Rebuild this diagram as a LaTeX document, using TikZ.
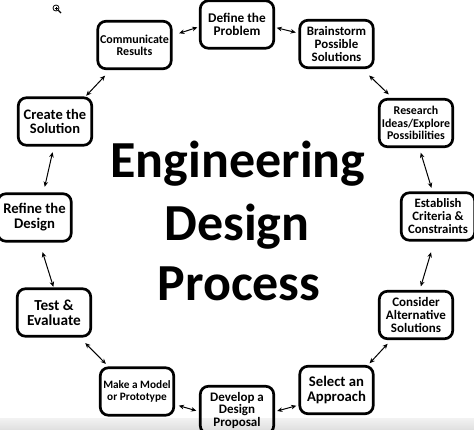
\documentclass[tikz,border=0pt]{standalone}
\usepackage{fontspec}
\setmainfont{Carlito}
\usetikzlibrary{arrows.meta}
\begin{document}
\begin{tikzpicture}[x=1pt,y=-1pt,
  box/.style={draw, line width=2.7pt, rounded corners=8pt, align=center,
    inner sep=0pt, outer sep=0pt, minimum width=73.4pt, minimum height=47.4pt},
  fs/.style 2 args={font=\bfseries\fontsize{#1}{#2}\selectfont},
  arr/.style={{Stealth[length=5.2pt,width=4.6pt]}-{Stealth[length=5.2pt,width=4.6pt]}, line width=1pt},
  titletext/.style={anchor=base, inner sep=0pt, font=\bfseries\fontsize{52}{60}\selectfont}]
\useasboundingbox (0,0) rectangle (474,429);
\shade[top color=black!5, bottom color=black!12] (0,418) rectangle (474,429);
% magnifier icon
\draw[line width=0.8pt] (56,8) circle (3);
\draw[line width=0.6pt] (54.5,8) -- (57.5,8) (56,6.5) -- (56,9.5);
\draw[line width=1.3pt] (58.3,10.3) -- (61,13);
% boxes
\node[box, fs={12}{11.7}] (comm) at (134.5,45) {Communicate\\Results};
\node[box, fs={13.3}{13.3}] (define) at (237,24.5) {Define the\\Problem};
\node[box, fs={12.9}{13.3}] (brain) at (336.5,44) {Brainstorm\\Possible\\Solutions};
\node[box, fs={11.9}{12.2}] (research) at (416,123) {Research\\Ideas/Explore\\Possibilities};
\node[box, fs={12.8}{13}] (establish) at (438,216.5) {Establish\\Criteria \&\\Constraints};
\node[box, fs={13}{13.3}] (consider) at (416,315) {Consider\\Alternative\\Solutions};
\node[box, fs={14.7}{15}] (select) at (336.5,390) {Select an\\Approach};
\node[box, fs={13}{12.5}] (develop) at (237,410) {Develop a\\Design\\Proposal};
\node[box, fs={11.3}{12.5}] (make) at (137,391.5) {Make a Model\\or Prototype};
\node[box, fs={15.3}{15.3}] (test) at (54,312.5) {Test \&\\Evaluate};
\node[box, fs={14.7}{15}] (refine) at (34.5,217.5) {Refine the\\Design};
\node[box, fs={14.5}{14.5}] (create) at (55,121.5) {Create the\\Solution};
% title
\node[titletext] (t1) at (238,177) {Engineering};
\node[titletext] (t2) at (237,240) {Design};
\node[titletext] (t3) at (239,300) {Process};
% arrows
\draw[arr, shorten <=8.4pt, shorten >=3.1pt] (comm.14.2) -- (define.183.9);
\draw[arr, shorten <=3.1pt, shorten >=4.1pt] (define.356.1) -- (brain.164.9);
\draw[arr, shorten <=11.3pt, shorten >=7.1pt] (brain.316.7) -- (research.133.8);
\draw[arr, shorten <=6.3pt, shorten >=5.2pt] (research.277.3) -- (establish.102.7);
\draw[arr, shorten <=12.6pt, shorten >=5.2pt] (establish.262.4) -- (consider.82.3);
\draw[arr, shorten <=6.9pt, shorten >=4.1pt] (consider.225.8) -- (select.38.3);
\draw[arr, shorten <=3.6pt, shorten >=3.6pt] (select.202.6) -- (develop.357.1);
\draw[arr, shorten <=4.2pt, shorten >=5.3pt] (develop.183.5) -- (make.341.4);
\draw[arr, shorten <=5.5pt, shorten >=9.6pt] (make.139.8) -- (test.316);
\draw[arr, shorten <=2.1pt, shorten >=11.5pt] (test.90.9) -- (refine.281.8);
\draw[arr, shorten <=7.2pt, shorten >=7.2pt] (refine.70.3) -- (create.268.9);
\draw[arr, shorten <=2.8pt, shorten >=9.6pt] (create.39.4) -- (comm.226.3);
\end{tikzpicture}
\end{document}
